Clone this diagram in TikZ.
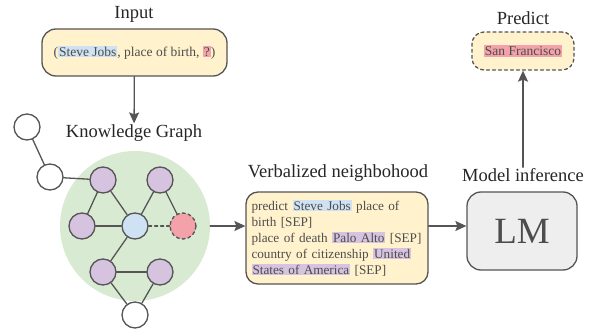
\documentclass[tikz,border=0pt]{standalone}
\usepackage{fontspec}
\setmainfont{Liberation Serif}
\usetikzlibrary{arrows.meta}
\definecolor{lineg}{HTML}{555555}
\definecolor{txtg}{HTML}{4D4D4D}
\definecolor{boxy}{HTML}{FFF2CC}
\definecolor{kgreen}{HTML}{D9EAD3}
\definecolor{epurple}{HTML}{D5C3E0}
\definecolor{eblue}{HTML}{CFE2F3}
\definecolor{ered}{HTML}{F2A2A8}
\definecolor{lmgray}{HTML}{EEEEEE}
\newcommand\hlword[2]{{\setlength{\fboxsep}{1pt}\colorbox{#1}{#2}}}
\newcommand\titlefont{\fontsize{18.5}{21}\selectfont}
\begin{document}
\begin{tikzpicture}[x=1pt,y=-1pt,>={Stealth[length=11pt,width=10pt,inset=2pt]}, line join=round, line cap=round,
  title/.style={text=black!85,font=\titlefont,inner sep=1pt},
  ybox/.style={draw=lineg,line width=1.3pt,fill=boxy,rounded corners=14pt,text=txtg},
  ent/.style={circle,draw=lineg,line width=1.3pt,minimum size=26pt,inner sep=0pt},
  edge/.style={draw=lineg,line width=1.3pt},
  flow/.style={->,draw=lineg,fill=lineg,line width=1.3pt}]
\useasboundingbox (0,0) rectangle (591,331);
% input
\node[title] (t-input) at (134,14) {Input};
\node[ybox,minimum width=185pt,minimum height=47pt,font=\fontsize{13.5}{16}\selectfont] (input) at (134.5,52.5)
  {(\hlword{eblue}{Steve Jobs}, place of birth, \hlword{ered}{?})};
\node[title] (t-kg) at (134,133) {Knowledge Graph};
% knowledge graph
\node[circle,fill=kgreen,minimum size=150pt,inner sep=0pt] (kg) at (135,226) {};
\node[ent,fill=epurple] (e-tl) at (103,180) {};
\node[ent,fill=epurple] (e-tr) at (160,180) {};
\node[ent,fill=epurple] (e-l) at (82,226) {};
\node[ent,fill=eblue] (e-c) at (135,226) {};
\node[ent,fill=ered,dashed] (e-r) at (183,226) {};
\node[ent,fill=epurple] (e-bl) at (103,272) {};
\node[ent,fill=epurple] (e-br) at (160,272) {};
\node[ent,fill=white] (w-b) at (135,315) {};
\node[ent,fill=white] (w-m) at (50,177) {};
\node[ent,fill=white] (w-t) at (27,127) {};
\draw[edge] (e-tl) -- (e-l);
\draw[edge] (e-tl) -- (e-c);
\draw[edge] (e-tr) -- (e-c);
\draw[edge] (e-tr) -- (e-r);
\draw[edge] (e-l) -- (e-c);
\draw[edge,dashed] (e-c) -- (e-r);
\draw[edge] (e-c) -- (e-bl);
\draw[edge] (e-bl) -- (e-br);
\draw[edge] (e-bl) -- (w-b);
\draw[edge] (e-br) -- (w-b);
\draw[edge] (w-m) -- (e-tl);
\draw[edge] (w-t) -- (w-m);
% verbalized neighbourhood
\node[title] (t-verb) at (338,173) {Verbalized neighbohood};
\node[ybox,rounded corners=12pt,minimum width=182pt,minimum height=92pt,text width=171pt,align=left,
  inner xsep=5.5pt,font=\fontsize{13.2}{16}\selectfont] (verb) at (337,238)
  {predict \hlword{eblue}{Steve Jobs} place of\\
   birth [SEP]\\
   place of death \hlword{epurple}{Palo Alto} [SEP]\\
   country of citizenship \hlword{epurple}{United}\\
   \hlword{epurple}{States of America} [SEP]};
% model
\node[title] (t-lm) at (523,175) {Model inference};
\node[draw=lineg,line width=1.3pt,fill=lmgray,rounded corners=14pt,minimum width=110pt,minimum height=78pt,
  text=txtg,font=\fontsize{37}{40}\selectfont] (lm) at (522,231) {LM};
\node[title] (t-pred) at (523,18) {Predict};
\node[ybox,dashed,rounded corners=12pt,minimum width=102pt,minimum height=38pt,
  font=\fontsize{13.5}{15}\selectfont] (pred) at (523,51) {\hlword{ered}{San Francisco}};
% arrows
\draw[flow] (input) -- (t-kg);
\draw[flow] (kg.east) -- (kg.east -| verb.west);
\draw[flow] (kg.east -| verb.east) -- (kg.east -| lm.west);
\draw[flow] (t-lm) -- (pred);
\end{tikzpicture}
\end{document}
